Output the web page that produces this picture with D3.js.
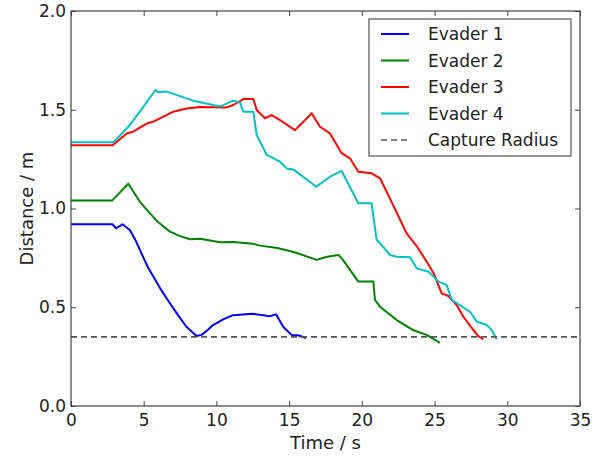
<!DOCTYPE html>
<html>
<head>
<meta charset="utf-8">
<script src="https://d3js.org/d3.v7.min.js"></script>
<style>
html,body{margin:0;padding:0;background:#fff;}
svg{display:block;}
text{font-family:"DejaVu Sans",sans-serif;fill:#222;}
</style>
</head>
<body>
<svg id="chart" width="606" height="457"></svg>
<script>
// ---- data ----
const xTicks = [0, 5, 10, 15, 20, 25, 30, 35];
const yTicks = [0.0, 0.5, 1.0, 1.5, 2.0];
const captureRadius = 0.35;
const seriesNames = ["Evader 1", "Evader 2", "Evader 3", "Evader 4"];
const seriesColors = ["#0000ff", "#008000", "#ff0000", "#00bfbf"];

const e1T = [0, 2.85, 3.1, 3.55, 4.06, 4.5, 4.95, 5.27, 6.12, 6.8, 7.36, 7.95, 8.64, 8.98, 9.4, 9.77, 10.5, 11.14, 12.5, 13.7, 14.1, 14.6, 15.17, 15.6, 16.16];
const e1D = [0.92, 0.92, 0.90, 0.92, 0.89, 0.83, 0.756, 0.705, 0.597, 0.52, 0.46, 0.40, 0.354, 0.36, 0.385, 0.41, 0.44, 0.46, 0.467, 0.455, 0.464, 0.40, 0.36, 0.358, 0.344];

const e2T = [0, 2.82, 3.94, 4.74, 5.43, 6.0, 6.8, 7.5, 8.18, 8.87, 10.25, 11.16, 12.5, 13.0, 14.2, 15.3, 16.9, 17.6, 18.4, 18.7, 19.76, 20.79, 20.9, 21.25, 22.4, 23.5, 24.46, 25.37];
const e2D = [1.04, 1.04, 1.125, 1.034, 0.975, 0.93, 0.883, 0.86, 0.844, 0.847, 0.829, 0.83, 0.822, 0.812, 0.80, 0.78, 0.74, 0.756, 0.765, 0.74, 0.63, 0.63, 0.537, 0.503, 0.435, 0.385, 0.36, 0.32];

const e3T = [0, 2.86, 3.83, 4.28, 5.2, 5.66, 7.04, 7.95, 8.87, 10.7, 11.16, 11.85, 12.54, 12.77, 13.34, 13.8, 14.37, 15.4, 15.86, 16.55, 17.12, 17.81, 18.61, 19.18, 19.76, 20.67, 21.25, 21.82, 23.08, 23.77, 24.46, 24.92, 25.49, 25.95, 26.52, 26.98, 27.66, 28.0, 28.35];
const e3D = [1.32, 1.32, 1.38, 1.389, 1.43, 1.44, 1.49, 1.506, 1.514, 1.512, 1.524, 1.554, 1.554, 1.499, 1.457, 1.473, 1.448, 1.397, 1.43, 1.482, 1.414, 1.38, 1.28, 1.254, 1.186, 1.178, 1.153, 1.068, 0.874, 0.81, 0.73, 0.675, 0.57, 0.557, 0.511, 0.452, 0.385, 0.354, 0.338];

const e4T = [0, 2.91, 4.06, 4.97, 5.82, 6.0, 6.58, 8.41, 10.25, 11.16, 11.62, 11.85, 12.54, 12.77, 13.46, 14.37, 14.83, 15.29, 16.87, 17.81, 18.61, 19.76, 20.67, 21.02, 21.25, 21.93, 22.4, 23.31, 23.77, 24.6, 25.26, 25.83, 26.18, 27.44, 27.9, 28.58, 28.93, 29.27];
const e4D = [1.335, 1.335, 1.423, 1.515, 1.6, 1.588, 1.592, 1.546, 1.516, 1.546, 1.536, 1.49, 1.49, 1.372, 1.271, 1.237, 1.203, 1.198, 1.11, 1.161, 1.19, 1.026, 1.026, 0.84, 0.824, 0.765, 0.756, 0.753, 0.697, 0.68, 0.63, 0.613, 0.537, 0.477, 0.427, 0.41, 0.385, 0.338];

const seriesT = [e1T, e2T, e3T, e4T];
const seriesD = [e1D, e2D, e3D, e4D];

// ---- layout ----
const L = 71, R = 580, T = 11, B = 406;
const svg = d3.select("#chart");
const x = d3.scaleLinear().domain([0, 35]).range([L, R]);
const y = d3.scaleLinear().domain([0, 2]).range([B, T]);

// series
const line = d3.line().x(d => x(d[0])).y(d => y(d[1]));
seriesT.forEach((ts, i) => {
  const pts = ts.map((t, j) => [t, seriesD[i][j]]);
  svg.append("path").datum(pts)
    .attr("d", line)
    .attr("fill", "none")
    .attr("stroke", seriesColors[i])
    .attr("stroke-width", 2)
    .attr("stroke-linejoin", "round");
});

// capture radius
svg.append("line")
  .attr("x1", x(0)).attr("x2", x(35))
  .attr("y1", y(captureRadius)).attr("y2", y(captureRadius))
  .attr("stroke", "#555").attr("stroke-width", 1.6)
  .attr("stroke-dasharray", "6,4");

// axes
const fontSize = "17px";
const gx = svg.append("g").attr("transform", `translate(0,${B})`)
  .call(d3.axisBottom(x).tickValues(xTicks).tickFormat(d3.format("d")).tickSizeInner(-5).tickSizeOuter(0).tickPadding(8));
const gy = svg.append("g").attr("transform", `translate(${L},0)`)
  .call(d3.axisLeft(y).tickValues(yTicks).tickFormat(d3.format(".1f")).tickSizeInner(-5).tickSizeOuter(0).tickPadding(5));
const gxt = svg.append("g").attr("transform", `translate(0,${T})`)
  .call(d3.axisTop(x).tickValues(xTicks).tickFormat("").tickSizeInner(-5).tickSizeOuter(0));
const gyr = svg.append("g").attr("transform", `translate(${R},0)`)
  .call(d3.axisRight(y).tickValues(yTicks).tickFormat("").tickSizeInner(-5).tickSizeOuter(0));
[gx, gy, gxt, gyr].forEach(g => {
  g.select(".domain").remove();
  g.selectAll(".tick line").attr("stroke", "#444").attr("stroke-width", 1);
  g.selectAll("text").style("font-family", "DejaVu Sans, sans-serif").style("font-size", fontSize).attr("fill", "#222");
});

// frame
svg.append("rect").attr("x", L).attr("y", T).attr("width", R - L).attr("height", B - T)
  .attr("fill", "none").attr("stroke", "#444").attr("stroke-width", 1.2);

// axis labels
svg.append("text").attr("x", (L + R) / 2).attr("y", 449)
  .attr("text-anchor", "middle").style("font-size", "18px").text("Time / s");
svg.append("text").attr("transform", `translate(33,${(T + B) / 2}) rotate(-90)`)
  .attr("text-anchor", "middle").style("font-size", "18px").text("Distance / m");

// legend
const lg = svg.append("g");
lg.append("rect").attr("x", 369).attr("y", 19).attr("width", 202).attr("height", 137)
  .attr("fill", "#fff").attr("stroke", "#333").attr("stroke-width", 1);
const legendNames = seriesNames.concat(["Capture Radius"]);
legendNames.forEach((name, i) => {
  const cy = 34 + i * 26.5;
  const ln = lg.append("line").attr("x1", 381).attr("x2", 409).attr("y1", cy).attr("y2", cy)
    .attr("stroke-width", i < 4 ? 2 : 1.6)
    .attr("stroke", i < 4 ? seriesColors[i] : "#555");
  if (i === 4) ln.attr("stroke-dasharray", "6,4").attr("x1", 381).attr("x2", 407);
  lg.append("text").attr("x", 428).attr("y", cy + 6).style("font-size", "17px").text(name);
});
</script>
</body>
</html>
